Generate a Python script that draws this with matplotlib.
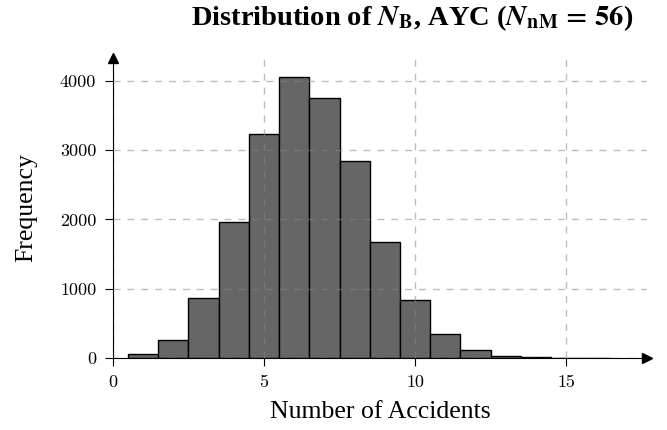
import matplotlib
matplotlib.use("Agg")
import matplotlib.pyplot as plt

accidents = [1, 2, 3, 4, 5, 6, 7, 8, 9, 10, 11, 12, 13, 14, 15, 16]
counts = [58, 260, 860, 1962, 3240, 4050, 3756, 2850, 1668, 841, 340, 112, 33, 12, 4, 1]
xticks = [0, 5, 10, 15]
yticks = [0, 1000, 2000, 3000, 4000]

plt.rcParams['font.family'] = ['Liberation Serif', 'DejaVu Serif']
plt.rcParams['mathtext.fontset'] = 'stix'

fig = plt.figure(figsize=(6.67, 4.30), dpi=100)
ax = fig.add_axes([0.1694, 0.1674, 0.8001, 0.6977])

ax.bar(accidents, counts, width=1.0, color='#666666', edgecolor='black',
       linewidth=1.0, zorder=2)

ax.set_xlim(0, 17.67)
ax.set_ylim(0, 4330)
ax.set_xticks(xticks)
ax.set_yticks(yticks)
for lab in ax.get_xticklabels() + ax.get_yticklabels():
    lab.set_fontfamily('cmr10')
    lab.set_fontsize(13)

ax.grid(True, linestyle=(0, (5, 5)), color='#888888', alpha=0.55,
        linewidth=1.0, zorder=3)
ax.set_axisbelow(False)

for side in ['top', 'right']:
    ax.spines[side].set_visible(False)
ax.spines['left'].set_zorder(4)
ax.spines['bottom'].set_zorder(4)
ax.tick_params(direction='out', length=6, width=0.8, pad=6)

# flechas en los ejes
ax.plot(1, 0, '>k', markersize=7, transform=ax.get_yaxis_transform(), clip_on=False, zorder=5)
ax.plot(0, 1, '^k', markersize=7, transform=ax.get_xaxis_transform(), clip_on=False, zorder=5)

ax.set_xlabel('Number of Accidents', fontsize=18.5, labelpad=8)
ax.set_ylabel('Frequency', fontsize=18.5, labelpad=16)

fig.text(0.618, 0.958, r'Distribution of $\mathbfit{N}_{\mathbf{B}}$, AYC ($\mathbfit{N}_{\mathbf{nM}}\,\mathbf{=\,56}$)',
         ha='center', va='center', fontsize=20.5, fontweight='bold')

fig.savefig('out.png', dpi=100)
